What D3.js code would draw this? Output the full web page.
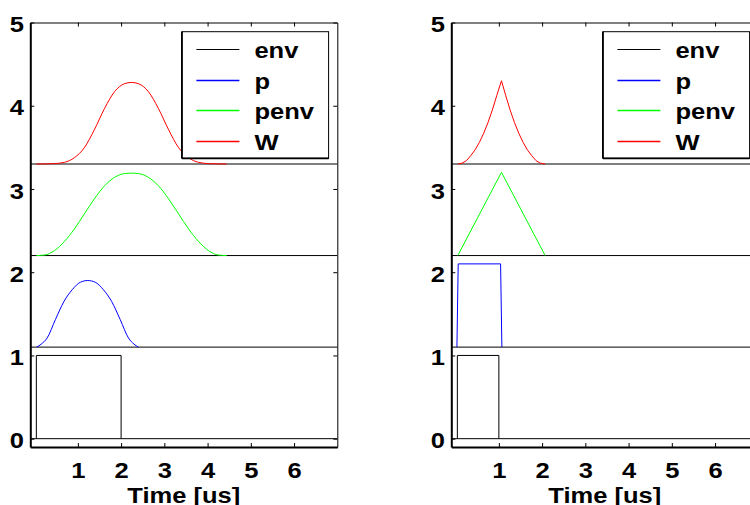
<!DOCTYPE html>
<html>
<head>
<meta charset="utf-8">
<script src="https://cdn.jsdelivr.net/npm/d3@7"></script>
<style>
  html, body { margin: 0; padding: 0; background: #fff; }
  svg { display: block; }
  text { font-family: "Liberation Sans", Arial, Helvetica, sans-serif; font-weight: bold; }
</style>
</head>
<body>
<svg id="chart" width="750" height="505"></svg>
<script>
// ---- shared axis settings ----
const timeTicks = [1, 2, 3, 4, 5, 6];
const levelTicks = [0, 1, 2, 3, 4, 5];
const timeDomain = [-0.1, 7];
const levelDomain = [-0.1, 5];
const axisLabel = "Time [us]";

// ---- series ----
const seriesNames = ["env", "p", "penv", "W"];
const seriesColors = ["#000000", "#0000ff", "#00ff00", "#ff0000"];
const traceOffsets = [0, 1.1, 2.2, 3.3];

// left figure: 2 us envelope with a smooth pulse
const envTimeA = [0.04, 0.04, 2.0, 2.0];
const envValA  = [0, 1, 1, 0];
const pTimeA = [0.05, 0.15, 0.29, 0.48, 0.68, 0.87, 1.06, 1.23, 1.40, 1.59, 1.78, 1.98, 2.17, 2.30, 2.40];
const pValA  = [0, 0.035, 0.11, 0.33, 0.55, 0.69, 0.78, 0.80, 0.78, 0.69, 0.55, 0.33, 0.11, 0.035, 0];
const penvTimeA = [0.04, 0.23, 0.46, 0.69, 0.92, 1.15, 1.38, 1.62, 1.85, 2.08, 2.24,
                   2.40, 2.63, 2.86, 3.10, 3.33, 3.56, 3.79, 4.02, 4.25, 4.44];
const penvValA  = [0, 0.006, 0.06, 0.17, 0.32, 0.50, 0.68, 0.84, 0.94, 0.985, 0.99,
                   0.985, 0.94, 0.84, 0.68, 0.50, 0.32, 0.17, 0.06, 0.006, 0];
const wTimeA = penvTimeA;
const wValA  = [0, 0.001, 0.005, 0.02, 0.076, 0.196, 0.41, 0.67, 0.87, 0.965, 0.98,
                0.965, 0.87, 0.67, 0.41, 0.196, 0.076, 0.02, 0.005, 0.001, 0];

// right figure: 1 us envelope with a rectangular pulse
const envTimeB = [0.04, 0.04, 1.0, 1.0];
const envValB  = [0, 1, 1, 0];
const pTimeB = [0.03, 0.06, 1.04, 1.07];
const pValB  = [0, 1, 1, 0];
const penvTimeB = [0.05, 1.06, 2.07];
const penvValB  = [0, 1, 0];
const wTimeB = [0.05, 0.15, 0.25, 0.35, 0.45, 0.55, 0.65, 0.75, 0.85, 0.95, 1.06,
                1.16, 1.26, 1.36, 1.46, 1.56, 1.66, 1.76, 1.86, 1.96, 2.07];
const wValB  = [0, 0.01, 0.04, 0.10, 0.17, 0.26, 0.37, 0.50, 0.65, 0.82, 1.0,
                0.82, 0.65, 0.50, 0.37, 0.26, 0.17, 0.10, 0.04, 0.01, 0];

// ---- layout ----
const FONT = 22, STRETCH = 1.16;
const yTop = 22.5, yBot = 447;
const panels = [
  { x0: 30.3, x1: 337.3, traces: [
      { t: envTimeA, v: envValA, smooth: false },
      { t: pTimeA, v: pValA, smooth: true },
      { t: penvTimeA, v: penvValA, smooth: true },
      { t: wTimeA, v: wValA, smooth: true } ] },
  { x0: 451.3, x1: 758.3, traces: [
      { t: envTimeB, v: envValB, smooth: false },
      { t: pTimeB, v: pValB, smooth: false },
      { t: penvTimeB, v: penvValB, smooth: false },
      { t: wTimeB, v: wValB, smooth: false } ] }
];

const svg = d3.select("#chart");
svg.append("rect").attr("width", 750).attr("height", 505).attr("fill", "#fff");

panels.forEach(p => {
  const x = d3.scaleLinear().domain(timeDomain).range([p.x0, p.x1]);
  const y = d3.scaleLinear().domain(levelDomain).range([yBot, yTop]);
  const g = svg.append("g");

  // zero line of each stacked trace
  g.selectAll("line.base").data(traceOffsets).join("line")
    .attr("class", "base")
    .attr("x1", x(timeDomain[0])).attr("x2", x(timeDomain[1]))
    .attr("y1", d => y(d)).attr("y2", d => y(d))
    .attr("stroke", "#000").attr("stroke-width", 1);

  // traces, each lifted by its offset
  p.traces.forEach((tr, i) => {
    const pts = tr.t.map((t, k) => [t, tr.v[k] + traceOffsets[i]]);
    const line = d3.line().x(d => x(d[0])).y(d => y(d[1]))
      .curve(tr.smooth ? d3.curveMonotoneX : d3.curveLinear);
    g.append("path").attr("d", line(pts))
      .attr("fill", "none").attr("stroke", seriesColors[i]).attr("stroke-width", 1);
  });

  // axes
  const styleAxis = (sel, w) => {
    sel.attr("font-size", FONT).attr("font-family", null);
    sel.select(".domain").attr("stroke", "#000").attr("stroke-width", w);
    sel.selectAll(".tick line").attr("stroke", "#000").attr("stroke-width", 1);
  };

  const bottom = g.append("g").attr("transform", `translate(0,${yBot})`)
    .call(d3.axisBottom(x).tickValues(timeTicks).tickSizeInner(-4).tickSizeOuter(0).tickFormat(d3.format("d")));
  styleAxis(bottom, 2);
  bottom.selectAll(".tick text").attr("y", 31).attr("dy", null).attr("fill", "#000")
    .attr("transform", `scale(${STRETCH},1)`);

  const top = g.append("g").attr("transform", `translate(0,${yTop})`)
    .call(d3.axisTop(x).tickValues(timeTicks).tickSizeInner(-4).tickSizeOuter(0).tickFormat(""));
  styleAxis(top, 1);

  const left = g.append("g").attr("transform", `translate(${p.x0},0)`)
    .call(d3.axisLeft(y).tickValues(levelTicks).tickSizeInner(-4).tickSizeOuter(0).tickFormat(d3.format("d")));
  styleAxis(left, 2);
  left.selectAll(".tick text").attr("x", 0).attr("dy", "0.42em").attr("fill", "#000")
    .attr("transform", `translate(-6.3,0) scale(${STRETCH},1)`);

  const right = g.append("g").attr("transform", `translate(${p.x1},0)`)
    .call(d3.axisRight(y).tickValues(levelTicks).tickSizeInner(-4).tickSizeOuter(0).tickFormat(""));
  styleAxis(right, 1);

  // x axis title
  svg.append("text")
    .attr("transform", `translate(${(p.x0 + p.x1) / 2},502.5) scale(${STRETCH},1)`)
    .attr("text-anchor", "middle").attr("font-size", FONT).attr("fill", "#000")
    .text(axisLabel);

  // legend
  const lw = 146.7, lh = 126.6;
  const lx = p.x1 - 8.7 - lw, ly = 31.7;
  const lg = svg.append("g");
  lg.append("rect").attr("x", lx).attr("y", ly).attr("width", lw).attr("height", lh)
    .attr("fill", "#fff").attr("stroke", "#000").attr("stroke-width", 1);
  lg.append("line").attr("x1", lx).attr("x2", lx).attr("y1", ly).attr("y2", ly + lh)
    .attr("stroke", "#000").attr("stroke-width", 1.8);
  lg.append("line").attr("x1", lx).attr("x2", lx + lw).attr("y1", ly + lh).attr("y2", ly + lh)
    .attr("stroke", "#000").attr("stroke-width", 1.8);
  const rows = lg.selectAll("g.item").data(seriesNames).join("g")
    .attr("class", "item")
    .attr("transform", (d, i) => `translate(${lx},${Math.round(ly + 17.3 + i * 30.5) + 0.5})`);
  rows.append("line").attr("x1", 14.5).attr("x2", 57.5).attr("y1", 0).attr("y2", 0)
    .attr("stroke", (d, i) => seriesColors[i]).attr("stroke-width", (d, i) => i === 0 ? 1 : 1.6);
  rows.append("text")
    .attr("transform", `translate(72.5,8.5) scale(${STRETCH},1)`)
    .attr("font-size", FONT).attr("fill", "#000")
    .text(d => d);
});
</script>
</body>
</html>
